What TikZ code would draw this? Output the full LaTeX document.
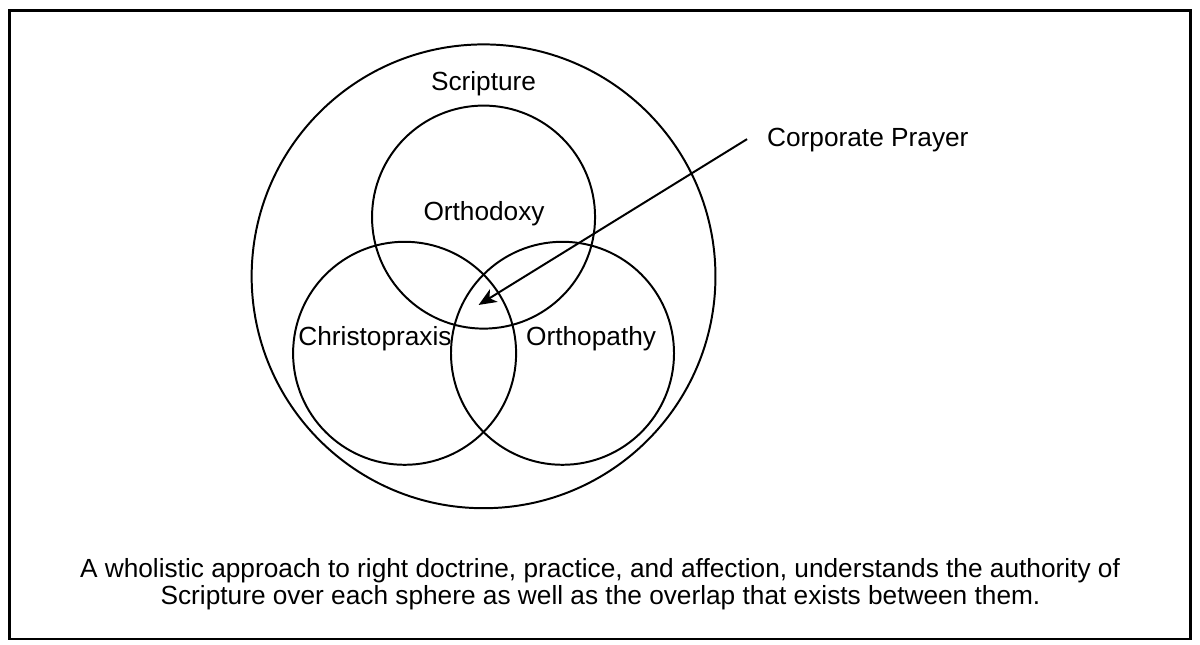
\documentclass[tikz,border=0pt]{standalone}
\usepackage{fontspec}
\setmainfont{Liberation Sans}
\usetikzlibrary{arrows.meta}
\begin{document}
\begin{tikzpicture}[x=0.5pt,y=-0.5pt,
  ring/.style={circle,draw,line width=1pt,inner sep=0pt,outer sep=0pt,minimum size=#1},
  lbl/.style={font=\fontsize{13.3pt}{16pt}\selectfont,inner sep=0pt,anchor=base},
  pointer/.style={line width=1pt,-{Stealth[length=9pt,width=7.5pt,inset=2.5pt]}}]
\useasboundingbox (0,0) rectangle (1216,652.6);
% outer frame
\draw[line width=1.5pt] (9.5,11) rectangle (1206.5,647.5);
% the spheres
\node[ring=235pt] (scripture) at (490,280) {};
\node[ring=113pt] (orthodoxy) at (490,220) {};
\node[ring=113pt] (christopraxis) at (410,358) {};
\node[ring=113pt] (orthopathy) at (570,358) {};
% sphere labels
\node[lbl] (scripturelbl) at (490,92) {Scripture};
\node[lbl] (orthodoxylbl) at (490.5,223) {Orthodoxy};
\node[lbl] (christopraxislbl) at (380,350) {Christopraxis};
\node[lbl] (orthopathylbl) at (599,350) {Orthopathy};
% callout for the shared centre
\node[lbl,anchor=base west] (prayer) at (777,148) {Corporate Prayer};
\coordinate (tail) at (757,141);
\coordinate (centre) at (485,309);
\draw[pointer] (tail) -- (centre);
% caption
\node[lbl] (caption1) at (608,585) {A wholistic approach to right doctrine, practice, and affection, understands the authority of};
\node[lbl] (caption2) at (608.5,613) {Scripture over each sphere as well as the overlap that exists between them.};
\end{tikzpicture}
\end{document}
